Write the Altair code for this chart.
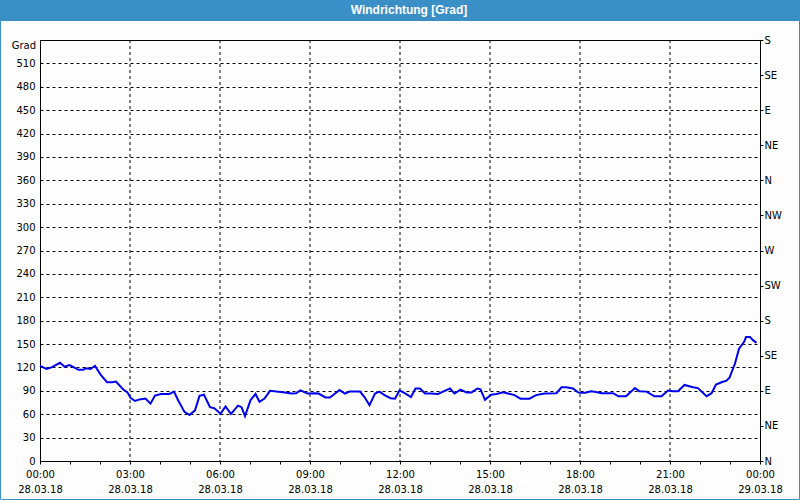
import altair as alt
import pandas as pd

# Wind direction readings (time of day on 28.03.18, degrees)
times = [
    "00:00", "00:13", "00:23", "00:40", "00:49", "00:59", "01:08", "01:17", "01:26", "01:32",
    "01:41", "01:50", "02:02", "02:14", "02:24", "02:32", "02:46", "02:55", "03:01", "03:10",
    "03:19", "03:31", "03:41", "03:50", "04:02", "04:19", "04:28", "04:37", "04:49", "04:59",
    "05:10", "05:19", "05:28", "05:40", "05:49", "06:01", "06:11", "06:22", "06:36", "06:43",
    "06:50", "07:01", "07:11", "07:19", "07:29", "07:40", "07:53", "08:10", "08:23", "08:32",
    "08:41", "08:55", "09:10", "09:17", "09:31", "09:40", "09:49", "09:59", "10:10", "10:19",
    "10:40", "10:49", "10:59", "11:10", "11:19", "11:29", "11:41", "11:50", "11:59", "12:11",
    "12:22", "12:31", "12:40", "12:50", "13:02", "13:16", "13:26", "13:40", "13:49", "14:01",
    "14:13", "14:23", "14:35", "14:41", "14:50", "15:02", "15:13", "15:26", "15:36", "15:49",
    "16:01", "16:19", "16:32", "16:49", "17:13", "17:23", "17:32", "17:46", "17:56", "18:01",
    "18:11", "18:22", "18:32", "18:43", "19:06", "19:17", "19:32", "19:50", "19:59", "20:13",
    "20:29", "20:43", "20:56", "21:06", "21:16", "21:29", "21:46", "21:56", "22:13", "22:23",
    "22:32", "22:43", "22:53", "22:59", "23:10", "23:18", "23:28", "23:32", "23:40", "23:46",
    "23:53",
]
values = [
    122, 118, 120, 126, 121, 123, 120, 117, 117, 119,
    118, 122, 110, 101, 101, 102, 92, 88, 81, 77,
    79, 80, 73.5, 84, 86, 86, 89, 77, 63, 59,
    65, 83.5, 85, 69, 67.5, 60.5, 70, 60.5, 71, 69,
    57.5, 78, 86, 76, 80, 90, 89, 88, 86.5, 87,
    90.5, 86.5, 87, 86.5, 81.5, 81.5, 86, 91, 86.5, 89,
    89, 82, 71.5, 86.5, 89, 84.5, 80.5, 80, 90.5, 86.5,
    82, 93, 93, 86.5, 86.5, 86, 89, 93, 86.5, 91.5,
    88, 88, 93, 92, 78.5, 85, 86, 88, 86.5, 84.5,
    80, 80, 84.5, 86.5, 87, 94.5, 94.5, 93, 88, 87.5,
    87.5, 89.5, 88.5, 87, 87, 83, 83, 93.5, 89.5, 89,
    83, 83, 90.5, 89.5, 89.5, 97.5, 94.5, 93.5, 83, 87,
    98, 101, 103, 107, 125, 144, 152.5, 159, 159, 155,
    151.5,
]

grid_hours = [3, 6, 9, 12, 15, 18, 21]
tick_hours = list(range(0, 25))
left_ticks = list(range(0, 511, 30))
right_ticks = list(range(0, 541, 45))
directions = ["N", "NE", "E", "SE", "S", "SW", "W", "NW"]
title_text = "Windrichtung [Grad]"
unit_text = "Grad"
date_1 = "28.03.18"
date_2 = "29.03.18"


def to_hours(t):
    h, m = t.split(":")
    return int(h) + int(m) / 60.0


df = pd.DataFrame({"h": [to_hours(t) for t in times], "v": values})
grid_df = pd.DataFrame({"h": grid_hours})
one = pd.DataFrame({"k": [0]})

FONT = "DejaVu Sans"
BLUE = "#3b8fc7"

x_scale = alt.Scale(domain=[0, 24], nice=False, zero=False)
y_scale = alt.Scale(domain=[0, 540], nice=False)

x_axis = alt.Axis(
    values=tick_hours,
    labelExpr=(
        "datum.value % 3 == 0 ? [(datum.value % 24 < 10 ? '0' : '') + (datum.value % 24) + ':00', "
        f"datum.value < 24 ? '{date_1}' : '{date_2}'] : ''"
    ),
    grid=False,
    tickSize=3,
    tickColor="black",
    domainColor="black",
    labelColor="black",
    labelFont=FONT,
    labelFontSize=10,
    labelPadding=5,
    labelLineHeight=15,
    labelFlush=False,
    labelOverlap=False,
    title=None,
)
x_enc = alt.X("h:Q", scale=x_scale, axis=x_axis)

left_axis = alt.Axis(
    values=left_ticks,
    orient="left",
    grid=True,
    gridColor="black",
    gridDash=[3, 3],
    gridWidth=1,
    gridOpacity=1,
    ticks=False,
    tickSize=0,
    domainColor="black",
    labelColor="black",
    labelFont=FONT,
    labelFontSize=10,
    labelPadding=5,
    title=None,
)

dir_list = "[" + ",".join(f"'{d}'" for d in directions) + "]"
right_axis = alt.Axis(
    values=right_ticks,
    orient="right",
    grid=False,
    tickSize=3,
    tickColor="black",
    domainColor="black",
    labelColor="black",
    labelFont=FONT,
    labelFontSize=10,
    labelPadding=1,
    labelExpr=f"{dir_list}[round(datum.value / 45) % 8]",
    title=None,
)

vgrid = alt.Chart(grid_df).mark_rule(color="black", strokeDash=[3, 3], strokeWidth=1).encode(x=x_enc)

line = alt.Chart(df).mark_line(color="#0000f0", strokeWidth=2).encode(
    x=x_enc, y=alt.Y("v:Q", scale=y_scale, axis=left_axis)
)

right = alt.Chart(df).mark_line(opacity=0).encode(
    x=x_enc, y=alt.Y("v:Q", scale=y_scale, axis=right_axis)
)

bar = alt.Chart(one).mark_rect(color=BLUE).encode(
    x=alt.value(-40), x2=alt.value(760), y=alt.value(-40), y2=alt.value(-19)
)
border = alt.Chart(one).mark_rect(fill=None, stroke=BLUE, strokeWidth=1, filled=False).encode(
    x=alt.value(-39.5), x2=alt.value(759.5), y=alt.value(-40), y2=alt.value(459.5)
)
title = alt.Chart(one).mark_text(
    text=title_text, color="white", font="Liberation Sans", fontWeight="bold", fontSize=12,
    align="center", baseline="middle",
).encode(x=alt.value(369), y=alt.value(-30))
unit = alt.Chart(one).mark_text(
    text=unit_text, color="black", font=FONT, fontSize=10, align="right", baseline="middle"
).encode(x=alt.value(-4), y=alt.value(6))

chart = (
    alt.layer(vgrid, line, right, bar, border, title, unit)
    .resolve_scale(y="independent")
    .properties(
        width=720,
        height=421,
        autosize=alt.AutoSizeParams(type="none"),
        padding={"left": 40, "top": 40, "right": 40, "bottom": 39},
        background="#fcfdfc",
    )
    .configure_view(stroke="black", strokeWidth=1)
)

chart.save("out.html", embed_options={"renderer": "svg", "actions": False})
